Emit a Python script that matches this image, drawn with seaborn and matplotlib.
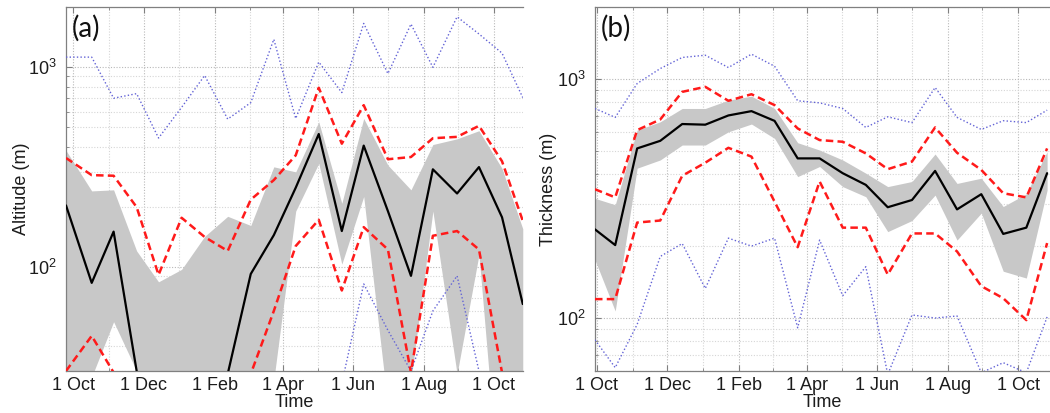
import matplotlib
matplotlib.use("Agg")
import matplotlib.pyplot as plt
from matplotlib.ticker import FixedLocator, LogLocator, NullFormatter, LogFormatterMathtext
import seaborn as sns

# Sampling dates, in days after 1 October (first sample differs per panel)
days_shared = [16, 35, 55, 74, 94, 114, 134, 154, 174, 193, 213, 233, 252,
               273, 293, 312, 333, 352, 372, 390]
first_day_a = -6.3
first_day_b = -1.5

month_ticks = [0, 61, 123, 182, 243, 304, 365]
month_labels = ["1 Oct", "1 Dec", "1 Feb", "1 Apr", "1 Jun", "1 Aug", "1 Oct"]
month_minor = [31, 92, 153, 212, 273, 334]

# (a) Altitude (m)
alt_median = [203, 83, 150, 30, 15, 12, 15, 29, 92, 144, 249, 463, 151, 405,
              190, 90, 308, 233, 316, 177, 65]
alt_band_hi = [383, 240, 243, 120, 84, 97, 142, 179, 161, 317, 299, 533, 208,
               554, 323, 243, 410, 438, 481, 311, 155]
alt_band_lo = [10, 28, 53, 30, 10, 10, 10, 10, 10, 27, 190, 330, 103, 225,
               20, 27, 190, 29, 115, 5, 5]
alt_red_hi = [351, 288, 286, 199, 91, 176, 141, 120, 217, 272, 362, 790, 414,
              646, 346, 355, 441, 448, 509, 338, 170]
alt_red_lo = [30, 45, 29.5, 15, 10, 10, 10, 10, 29, 60, 127, 172, 76, 158,
              122, 29.5, 143, 151, 122, 29.5, 10]
alt_blue_hi = [1125, 1125, 700, 738, 442, 630, 910, 550, 665, 1382, 554, 1063,
               747, 1660, 930, 1648, 1000, 1792, 1470, 1178, 705]
alt_blue_lo = [10, 10, 10, 10, 10, 10, 10, 10, 10, 10, 10, 10, 26, 82, 48,
               30, 60, 90, 30, 10, 10]

# (b) Thickness (m)
thk_median = [235, 202, 513, 552, 649, 645, 705, 735, 669, 466, 466, 404, 361,
              291, 312, 413, 285, 330, 225, 239, 404]
thk_band_hi = [317, 298, 612, 663, 754, 754, 817, 849, 754, 542, 505, 459, 404,
               355, 373, 486, 366, 385, 293, 331, 497]
thk_band_lo = [175, 107, 424, 459, 530, 530, 602, 649, 565, 391, 431, 355, 322,
               230, 256, 327, 212, 275, 157, 147, 343]
thk_red_hi = [346, 320, 612, 678, 885, 929, 812, 865, 779, 622, 556, 547, 489,
              420, 452, 628, 492, 417, 333, 320, 513]
thk_red_lo = [120, 120, 251, 256, 394, 447, 516, 474, 307, 198, 373, 239, 239,
              152, 226, 226, 190, 136, 121, 98, 206]
thk_blue_hi = [754, 692, 959, 1108, 1233, 1260, 1119, 1273, 1133, 812, 796,
               754, 628, 696, 658, 923, 692, 616, 670, 658, 742]
thk_blue_lo = [81, 62, 94, 181, 205, 133, 216, 200, 216, 91, 212, 124, 164,
               58, 103, 100, 102, 59, 65, 59, 101]

sns.set_theme(style="white")
plt.rcParams["font.family"] = ["Liberation Sans", "DejaVu Sans"]
plt.rcParams["mathtext.fontset"] = "custom"
plt.rcParams["mathtext.rm"] = "Liberation Sans"
plt.rcParams["mathtext.it"] = "Liberation Sans"
plt.rcParams["mathtext.default"] = "regular"

GRAY_FILL = "#c8c8c8"
RED = "#ff1a1a"
BLUE = "#6363d6"
SPINE = "#808080"
TXT = "#1c1c1c"
FS = 13

fig = plt.figure(figsize=(10.5, 4.13), dpi=100)
ax_a = fig.add_axes([66 / 1050, 42 / 413, 457 / 1050, 363.7 / 413])
ax_b = fig.add_axes([595 / 1050, 42 / 413, 455 / 1050, 363.7 / 413])


def draw_panel(ax, days, med, band_lo, band_hi, red_lo, red_hi, blue_lo, blue_hi):
    ax.set_yscale("log")
    ax.fill_between(days, band_lo, band_hi, color=GRAY_FILL, lw=0, zorder=2)
    for vals in (blue_hi, blue_lo):
        sns.lineplot(x=days, y=vals, ax=ax, color=BLUE, lw=1.0,
                     linestyle=(0, (1, 1.6)), sort=False, errorbar=None, zorder=3)
    for vals in (red_hi, red_lo):
        sns.lineplot(x=days, y=vals, ax=ax, color=RED, lw=1.8,
                     linestyle=(0, (3.0, 1.7)), sort=False, errorbar=None, zorder=4)
    sns.lineplot(x=days, y=med, ax=ax, color="black", lw=1.6, sort=False,
                 errorbar=None, zorder=5)


def style_axes(ax, ylim, xlim, label, ylabel, ylab_x):
    ax.set_xlim(*xlim)
    ax.set_ylim(*ylim)
    ax.xaxis.set_major_locator(FixedLocator(month_ticks))
    ax.xaxis.set_minor_locator(FixedLocator(month_minor))
    ax.set_xticklabels(month_labels)
    ax.yaxis.set_major_locator(LogLocator(base=10))
    ax.yaxis.set_minor_locator(LogLocator(base=10, subs=range(2, 10)))
    ax.yaxis.set_major_formatter(LogFormatterMathtext())
    ax.yaxis.set_minor_formatter(NullFormatter())
    ax.set_axisbelow(True)
    ax.grid(True, which="major", linestyle=(0, (1, 1.5)), color="#b9b9b9", lw=0.8)
    ax.grid(True, which="minor", linestyle=(0, (1, 1.5)), color="#d6d6d6", lw=0.8)
    for side in ("top", "left", "bottom"):
        ax.spines[side].set_color(SPINE)
        ax.spines[side].set_linewidth(0.9)
    ax.spines["right"].set_visible(False)
    ax.tick_params(which="both", direction="in", top=True, right=False,
                   bottom=True, left=True, color=SPINE, labelcolor=TXT,
                   labelsize=FS)
    ax.tick_params(which="major", length=4.5, width=0.8)
    ax.tick_params(which="minor", length=2.5, width=0.6)
    ax.tick_params(axis="x", pad=4)
    ax.tick_params(axis="y", pad=7)
    ax.set_xlabel("Time", fontsize=FS, color=TXT)
    ax.xaxis.set_label_coords(0.5, -0.064)
    ax.set_ylabel(ylabel, fontsize=FS, color=TXT)
    ax.yaxis.set_label_coords(ylab_x, 0.5)
    ax.text(0.012, 0.978, label, transform=ax.transAxes, fontsize=20,
            family=["Lato", "DejaVu Sans"], va="top", ha="left", color="#111111",
            zorder=6)


days_a = [first_day_a] + days_shared
days_b = [first_day_b] + days_shared

draw_panel(ax_a, days_a, alt_median, alt_band_lo, alt_band_hi,
           alt_red_lo, alt_red_hi, alt_blue_lo, alt_blue_hi)
draw_panel(ax_b, days_b, thk_median, thk_band_lo, thk_band_hi,
           thk_red_lo, thk_red_hi, thk_blue_lo, thk_blue_hi)

style_axes(ax_a, (30, 2000), (first_day_a, 390.2), "(a)", "Altitude (m)", -0.079)
style_axes(ax_b, (60, 2000), (first_day_b, 392.5), "(b)", "Thickness (m)", -0.084)

fig.savefig("out.png", dpi=100)
